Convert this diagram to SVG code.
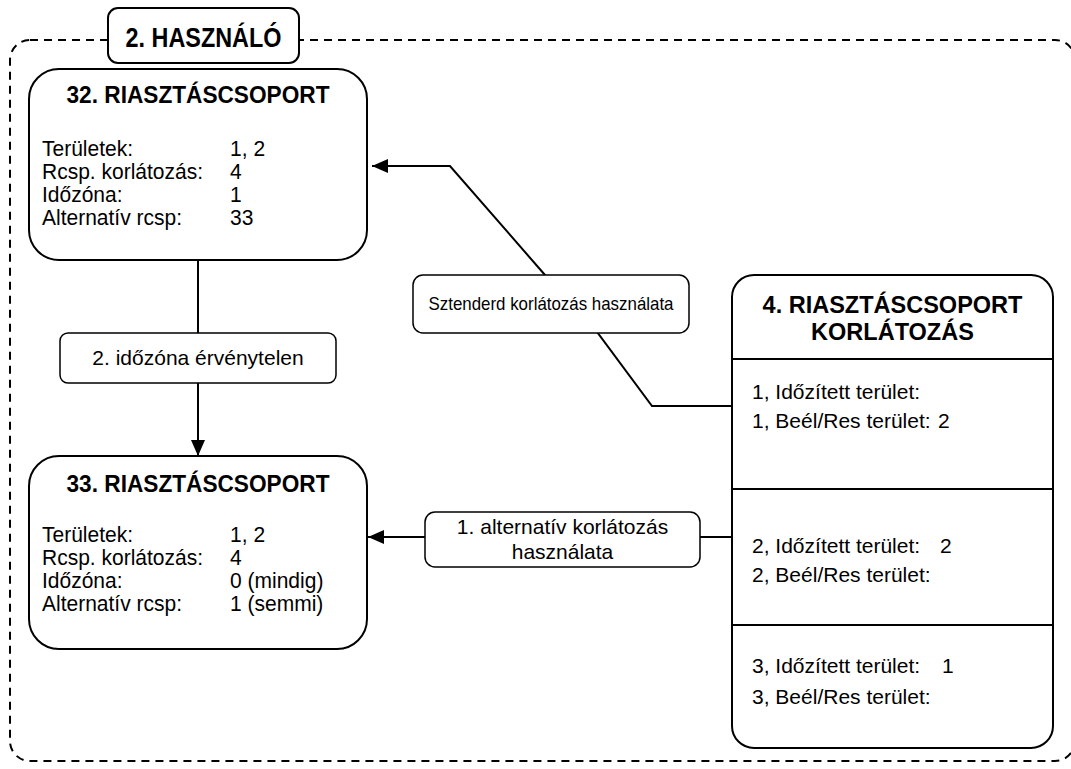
<svg xmlns="http://www.w3.org/2000/svg" width="1071" height="769" viewBox="0 0 1071 769">
<style>
.node{fill:#fff;stroke:#000;stroke-width:2}
.lbl{fill:#fff;stroke:#000;stroke-width:1.5}
.title{font-family:"Liberation Sans",Arial,sans-serif;font-weight:bold;fill:#000;text-anchor:middle}
.body{font-family:"Liberation Sans",Arial,sans-serif;font-size:21px;fill:#000}
.body22{font-family:"Liberation Sans",Arial,sans-serif;font-size:22px;fill:#000}
.ltxt{font-family:"Liberation Sans",Arial,sans-serif;fill:#000;text-anchor:middle}
.conn{fill:none;stroke:#000;stroke-width:2}
</style>
<defs>
<marker id="arr" markerUnits="userSpaceOnUse" markerWidth="16" markerHeight="14" refX="16" refY="7" orient="auto">
<path d="M0,0 L16,7 L0,14 z" fill="#000"/>
</marker>
</defs>
<rect width="1071" height="769" fill="#fff"/>
<g id="boundary">
<rect x="10" y="40" width="1065" height="721" rx="20" ry="20" fill="none" stroke="#000" stroke-width="2" stroke-dasharray="8 6"/>
</g>
<g id="connectors">
<line class="conn" x1="198" y1="260" x2="198" y2="456" marker-end="url(#arr)"/>
<polyline class="conn" stroke-width="1.5" points="732,406 652,406 597,332 545,275 450,166 372,166" marker-end="url(#arr)"/>
<line class="conn" x1="732" y1="537" x2="368" y2="537" marker-end="url(#arr)"/>
</g>
<g id="user-label">
<rect class="node" x="108" y="8" width="191" height="55" rx="10"/>
<text class="title" x="203.5" y="47" font-size="27" textLength="156" lengthAdjust="spacingAndGlyphs">2. HASZNÁLÓ</text>
</g>
<g id="node32">
<rect class="node" x="29" y="69" width="338" height="191" rx="30"/>
<text class="title" x="198" y="103" font-size="23" textLength="263" lengthAdjust="spacingAndGlyphs">32. RIASZTÁSCSOPORT</text>
<g transform="matrix(0.955,0,0,1,1.89,0)">
<text class="body22" x="42" y="156">Területek:</text><text class="body22" x="238.9" y="156">1, 2</text>
<text class="body22" x="42" y="179">Rcsp. korlátozás:</text><text class="body22" x="238.9" y="179">4</text>
<text class="body22" x="42" y="202">Időzóna:</text><text class="body22" x="238.9" y="202">1</text>
<text class="body22" x="42" y="225">Alternatív rcsp:</text><text class="body22" x="238.9" y="225">33</text>
</g>
</g>
<g id="node33">
<rect class="node" x="29" y="456" width="338" height="193" rx="30"/>
<text class="title" x="198" y="492" font-size="23" textLength="263" lengthAdjust="spacingAndGlyphs">33. RIASZTÁSCSOPORT</text>
<g transform="matrix(0.955,0,0,1,1.89,0)">
<text class="body22" x="42" y="542">Területek:</text><text class="body22" x="238.9" y="542">1, 2</text>
<text class="body22" x="42" y="565">Rcsp. korlátozás:</text><text class="body22" x="238.9" y="565">4</text>
<text class="body22" x="42" y="588">Időzóna:</text><text class="body22" x="238.9" y="588">0 (mindig)</text>
<text class="body22" x="42" y="611">Alternatív rcsp:</text><text class="body22" x="238.9" y="611">1 (semmi)</text>
</g>
</g>
<g id="node4">
<rect class="node" x="732" y="275" width="321" height="473" rx="22"/>
<line x1="732" y1="359" x2="1053" y2="359" stroke="#000" stroke-width="2"/>
<line x1="732" y1="489" x2="1053" y2="489" stroke="#000" stroke-width="2"/>
<line x1="732" y1="625" x2="1053" y2="625" stroke="#000" stroke-width="2"/>
<text class="title" x="892.5" y="313" font-size="23.5">4. RIASZTÁSCSOPORT</text>
<text class="title" x="892.5" y="340" font-size="23.5">KORLÁTOZÁS</text>
<text class="body" x="752" y="399">1, Időzített terület:</text>
<text class="body" x="752" y="428">1, Beél/Res terület:</text><text class="body" x="938" y="428">2</text>
<text class="body" x="752" y="553">2, Időzített terület:</text><text class="body" x="940" y="553">2</text>
<text class="body" x="752" y="582">2, Beél/Res terület:</text>
<text class="body" x="752" y="673">3, Időzített terület:</text><text class="body" x="942" y="673">1</text>
<text class="body" x="752" y="704">3, Beél/Res terület:</text>
</g>
<g id="label-timezone">
<rect class="lbl" x="60" y="333" width="276" height="50" rx="8"/>
<text class="ltxt" x="198" y="365" font-size="21">2. időzóna érvénytelen</text>
</g>
<g id="label-standard">
<rect class="lbl" x="413" y="275" width="276" height="58" rx="10"/>
<text class="ltxt" x="551" y="310" font-size="19" textLength="245" lengthAdjust="spacingAndGlyphs">Sztenderd korlátozás használata</text>
</g>
<g id="label-alternative">
<rect class="lbl" x="425" y="512" width="275" height="55" rx="10"/>
<text class="ltxt" x="562.5" y="534" font-size="21">1. alternatív korlátozás</text>
<text class="ltxt" x="562.5" y="559" font-size="21">használata</text>
</g>
</svg>
